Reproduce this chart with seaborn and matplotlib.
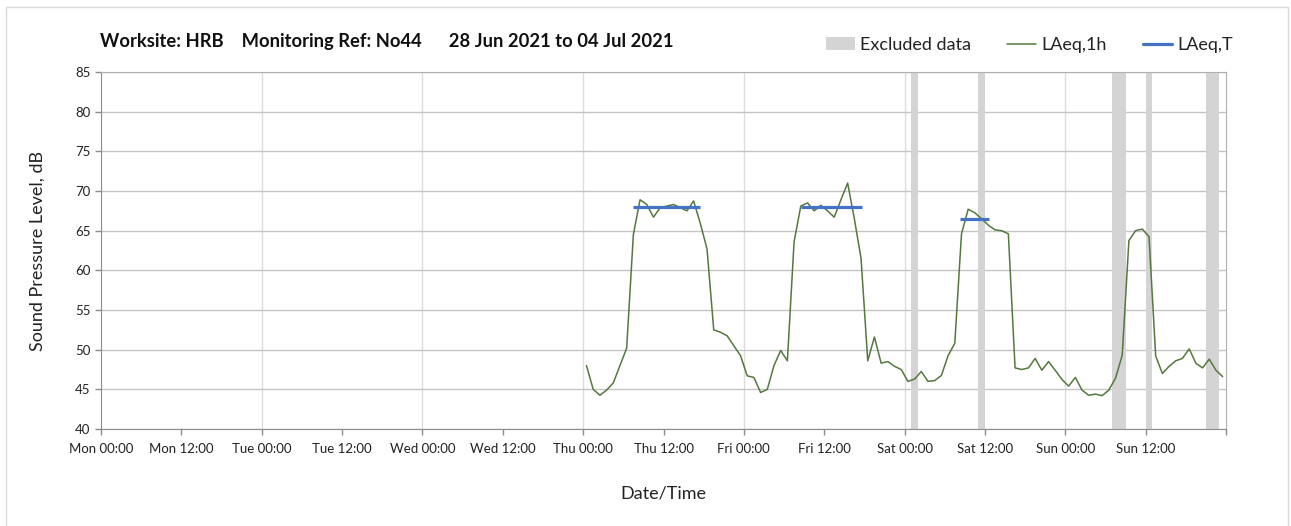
import numpy as np
import pandas as pd
import seaborn as sns
import matplotlib.pyplot as plt
import matplotlib.dates as mdates
from matplotlib.patches import Patch, Rectangle
from matplotlib.lines import Line2D

# hourly LAeq,1h, Thu 01 Jul 00:00 .. Sun 04 Jul 23:00
laeq_1h = [48.0, 45.0, 44.25, 44.9, 45.8, 48.0, 50.2, 64.5, 68.9, 68.3, 66.7, 67.9,
           68.1, 68.3, 67.9, 67.5, 68.75, 65.9, 62.7, 52.5, 52.2, 51.75, 50.5, 49.25,
           46.7, 46.5, 44.6, 45.0, 48.0, 49.9, 48.6, 63.6, 68.1, 68.5, 67.5, 68.2,
           67.5, 66.7, 68.9, 71.0, 66.5, 61.5, 48.6, 51.6, 48.3, 48.5, 47.9, 47.5,
           46.0, 46.3, 47.25, 46.0, 46.1, 46.75, 49.25, 50.8, 64.6, 67.7, 67.25, 66.5,
           65.7, 65.1, 65.0, 64.6, 47.7, 47.5, 47.7, 48.9, 47.4, 48.5, 47.4, 46.25,
           45.4, 46.5, 44.9, 44.25, 44.4, 44.2, 44.9, 46.4, 49.3, 63.75, 65.0, 65.2,
           64.25, 49.2, 47.0, 47.9, 48.6, 48.9, 50.1, 48.3, 47.7, 48.8, 47.4, 46.6]
times_1h = pd.date_range("2021-07-01 00:30", periods=len(laeq_1h), freq="h")

# LAeq,T daytime periods
laeqT_start = ["2021-07-01 07:30", "2021-07-02 08:30", "2021-07-03 08:20"]
laeqT_end = ["2021-07-01 17:30", "2021-07-02 17:40", "2021-07-03 12:40"]
laeqT_level = [68.0, 68.0, 66.5]

# excluded data periods
excl_start = ["2021-07-03 01:00", "2021-07-03 11:00", "2021-07-04 07:00",
              "2021-07-04 12:00", "2021-07-04 21:00"]
excl_end = ["2021-07-03 02:00", "2021-07-03 12:00", "2021-07-04 09:00",
            "2021-07-04 13:00", "2021-07-04 23:00"]

green = "#54783f"
blue = "#4472c4"
grey_band = "#d4d4d4"

sns.set_style("white")
plt.rcParams["font.family"] = ["Lato", "DejaVu Sans"]

fig, ax = plt.subplots(figsize=(12.91, 5.26), dpi=100)
fig.subplots_adjust(left=101 / 1291, right=1226 / 1291, top=1 - 72 / 526, bottom=1 - 429 / 526)

for s, e in zip(excl_start, excl_end):
    ax.axvspan(pd.Timestamp(s), pd.Timestamp(e), color=grey_band, lw=0, zorder=1)

df = pd.DataFrame({"time": times_1h, "level": laeq_1h})
sns.lineplot(data=df, x="time", y="level", ax=ax, color=green, lw=1.1, zorder=3)

seg = pd.DataFrame({
    "time": pd.to_datetime(laeqT_start + laeqT_end),
    "level": laeqT_level + laeqT_level,
    "period": list(range(3)) * 2,
})
sns.lineplot(data=seg, x="time", y="level", units="period", estimator=None,
             ax=ax, color=blue, lw=2.3, solid_capstyle="butt", zorder=4)

ax.set_xlim(pd.Timestamp("2021-06-28"), pd.Timestamp("2021-07-05"))
ax.set_ylim(40, 85)
ax.set_yticks(range(40, 90, 5))
ax.xaxis.set_major_locator(mdates.HourLocator(byhour=[0, 12]))
end_label = mdates.date2num(pd.Timestamp("2021-07-05"))
ax.xaxis.set_major_formatter(
    lambda v, pos: "" if abs(v - end_label) < 1e-6 else mdates.num2date(v).strftime("%a %H:%M"))
# vertical gridlines only at midnight
for d in pd.date_range("2021-06-29", "2021-07-04", freq="D"):
    ax.axvline(d, color="#dcdcdc", lw=1, zorder=0)
ax.yaxis.grid(True, color="#c4c4c4", lw=1, zorder=0)
ax.set_axisbelow(True)

for side in ["top", "right"]:
    ax.spines[side].set_color("#b0b0b0")
for side in ["left", "bottom"]:
    ax.spines[side].set_color("#8c8c8c")
ax.tick_params(axis="both", which="major", length=4, width=1, color="#8c8c8c",
               labelsize=9.5, labelcolor="#222222", direction="out", bottom=True, left=True)
ax.tick_params(axis="x", pad=6)

ax.set_xlabel("Date/Time", fontsize=13, color="#222222", labelpad=22)
ax.set_ylabel("Sound Pressure Level, dB", fontsize=13, color="#222222")
ax.yaxis.set_label_coords(-55 / 1125, 0.5)

fig.text(100 / 1291, 1 - 42 / 526,
         "Worksite: HRB    Monitoring Ref: No44      28 Jun 2021 to 04 Jul 2021",
         fontsize=13.2, fontweight="bold", color="#111111", va="center", ha="left")

handles = [Patch(facecolor=grey_band, edgecolor="none"),
           Line2D([], [], color=green, lw=1.1),
           Line2D([], [], color=blue, lw=2.3)]
fig.legend(handles, ["Excluded data", "LAeq,1h", "LAeq,T"], ncol=3, frameon=False,
           loc="center right", bbox_to_anchor=(1240 / 1291, 1 - 45 / 526),
           fontsize=13, handlelength=1.6, handletextpad=0.3, columnspacing=2.0,
           labelcolor="#222222", borderaxespad=0)

fig.patches.append(Rectangle((6 / 1291, -0.01), 1282 / 1291, 1 - 7 / 526 + 0.01,
                             transform=fig.transFigure, fill=False,
                             edgecolor="#d9d9d9", lw=1))

fig.savefig("out.png", dpi=100)
